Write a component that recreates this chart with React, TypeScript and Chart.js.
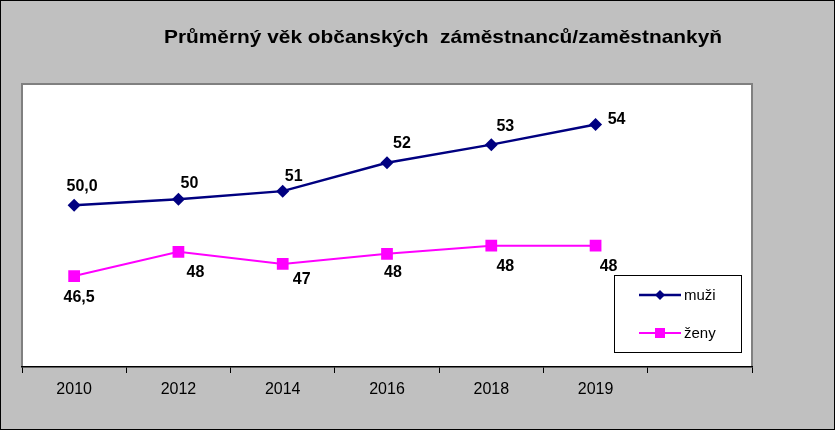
import React, { useEffect, useRef } from "react";
import { Chart, registerables } from "chart.js";

Chart.register(...registerables);

const categories = ["2010", "2012", "2014", "2016", "2018", "2019", ""];
const muzi = [50.0, 50.3, 50.7, 52.1, 53.0, 54.0];
const zeny = [46.5, 47.7, 47.1, 47.6, 48.0, 48.0];
const labelDecimals = [1, 0, 0, 0, 0, 0];
const seriesNames = ["muži", "ženy"];
const titleText = "Průměrný věk občanských  záměstnanců/zaměstnankyň";
const yMin = 42;
const yMax = 56;

// label offsets (style) relative to each point
const muziLabelOffsets = [[8, -19], [11, -16], [11, -15], [15, -19], [14, -18], [21, -5]];
const zenyLabelOffsets = [[5, 22], [17, 21], [19, 16], [6, 19], [14, 21], [13, 21]];

const FONT = "'Liberation Sans', Arial, Helvetica, sans-serif";
const NAVY = "#000080";
const MAGENTA = "#FF00FF";

function fmt(v: number, d: number) {
  return v.toFixed(d).replace(".", ",");
}

const decorPlugin = {
  id: "decor",
  beforeDraw(chart: any) {
    const { ctx, width, height, chartArea } = chart;
    ctx.save();
    ctx.fillStyle = "#C0C0C0";
    ctx.fillRect(0, 0, width, height);
    ctx.strokeStyle = "#000";
    ctx.lineWidth = 1;
    ctx.strokeRect(0.5, 0.5, width - 1, height - 1);
    ctx.fillStyle = "#FFFFFF";
    ctx.fillRect(chartArea.left, chartArea.top, chartArea.right - chartArea.left, chartArea.bottom - chartArea.top);
    ctx.strokeStyle = "#808080";
    ctx.lineWidth = 2;
    ctx.beginPath();
    ctx.moveTo(chartArea.left, chartArea.bottom);
    ctx.lineTo(chartArea.left, chartArea.top);
    ctx.lineTo(chartArea.right, chartArea.top);
    ctx.lineTo(chartArea.right, chartArea.bottom);
    ctx.stroke();
    // title
    ctx.fillStyle = "#000";
    ctx.font = `bold 19px ${FONT}`;
    ctx.textBaseline = "alphabetic";
    ctx.textAlign = "left";
    const w = ctx.measureText(titleText).width;
    const target = 558;
    ctx.translate(164, 42.5);
    ctx.scale(target / w, 1);
    ctx.fillText(titleText, 0, 0);
    ctx.restore();
  },
  afterDatasetsDraw(chart: any) {
    const { ctx } = chart;
    ctx.save();
    ctx.fillStyle = "#000";
    ctx.font = `bold 16px ${FONT}`;
    ctx.textAlign = "center";
    ctx.textBaseline = "middle";
    const sets = [
      { data: muzi, offs: muziLabelOffsets },
      { data: zeny, offs: zenyLabelOffsets },
    ];
    sets.forEach((s, di) => {
      const meta = chart.getDatasetMeta(di);
      meta.data.forEach((pt: any, i: number) => {
        const o = s.offs[i];
        ctx.fillText(fmt(s.data[i], labelDecimals[i]), pt.x + o[0], pt.y + o[1]);
      });
    });

    // legend
    const bx = 614.5, by = 275.5, bw = 127, bh = 77;
    ctx.fillStyle = "#FFFFFF";
    ctx.fillRect(bx, by, bw, bh);
    ctx.strokeStyle = "#000";
    ctx.lineWidth = 1;
    ctx.strokeRect(bx, by, bw, bh);
    const entries = [
      { y: 295, color: NAVY, shape: "diamond", lw: 2.5 },
      { y: 333, color: MAGENTA, shape: "square", lw: 2 },
    ];
    entries.forEach((e, i) => {
      ctx.strokeStyle = e.color;
      ctx.lineWidth = e.lw;
      ctx.beginPath();
      ctx.moveTo(639, e.y);
      ctx.lineTo(681, e.y);
      ctx.stroke();
      ctx.fillStyle = e.color;
      if (e.shape === "diamond") {
        const r = 5;
        ctx.beginPath();
        ctx.moveTo(660, e.y - r);
        ctx.lineTo(660 + r, e.y);
        ctx.lineTo(660, e.y + r);
        ctx.lineTo(660 - r, e.y);
        ctx.closePath();
        ctx.fill();
      } else {
        ctx.fillRect(655, e.y - 5, 10, 10);
      }
      ctx.fillStyle = "#000";
      ctx.font = `15px ${FONT}`;
      ctx.textAlign = "left";
      ctx.textBaseline = "middle";
      ctx.fillText(seriesNames[i], 684, e.y + 1);
    });
    ctx.restore();
  },
};

export default function App() {
  const ref = useRef<HTMLCanvasElement | null>(null);
  useEffect(() => {
    document.body.style.margin = "0";
    const canvas = ref.current;
    if (!canvas) return;
    const chart = new Chart(canvas, {
      type: "line",
      data: {
        labels: categories,
        datasets: [
          {
            label: seriesNames[0],
            data: muzi,
            borderColor: NAVY,
            backgroundColor: NAVY,
            borderWidth: 2.5,
            pointStyle: "rectRot",
            pointRadius: 6.5,
            pointHoverRadius: 6.5,
            pointBorderWidth: 0,
            pointBackgroundColor: NAVY,
            tension: 0,
            fill: false,
          },
          {
            label: seriesNames[1],
            data: zeny,
            borderColor: MAGENTA,
            backgroundColor: MAGENTA,
            borderWidth: 2,
            pointStyle: "rect",
            pointRadius: 8.3,
            pointHoverRadius: 8.3,
            pointBorderWidth: 0,
            pointBackgroundColor: MAGENTA,
            tension: 0,
            fill: false,
          },
        ],
      },
      options: {
        animation: false,
        responsive: false,
        devicePixelRatio: 1,
        events: [],
        layout: { padding: { left: 22, right: 83, top: 84, bottom: 0 } },
        plugins: {
          legend: { display: false },
          title: { display: false },
          tooltip: { enabled: false },
        },
        scales: {
          x: {
            type: "category",
            offset: true,
            afterFit: (scale: any) => {
              scale.height = 63;
            },
            grid: {
              display: true,
              drawOnChartArea: false,
              drawTicks: true,
              tickLength: 6,
              tickWidth: 1,
              tickColor: "#000",
              color: "#000",
              offset: true,
            },
            border: { display: true, color: "#000", width: 1.5 },
            ticks: {
              color: "#000",
              font: { family: FONT, size: 16 },
              padding: 7,
              maxRotation: 0,
              autoSkip: false,
            },
          },
          y: {
            display: false,
            min: yMin,
            max: yMax,
          },
        },
      },
      plugins: [decorPlugin],
    } as any);
    return () => chart.destroy();
  }, []);
  return (
    <canvas
      ref={ref}
      width={835}
      height={430}
      style={{ position: "absolute", left: 0, top: 0, width: 835, height: 430 }}
    />
  );
}
